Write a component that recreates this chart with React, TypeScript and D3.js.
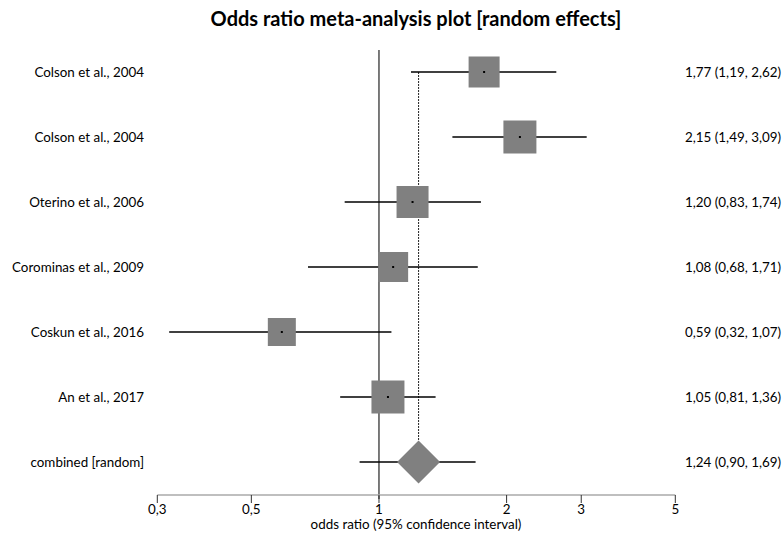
import React from "react";
import * as d3 from "d3";

const studies = [
  "Colson et al., 2004",
  "Colson et al., 2004",
  "Oterino et al., 2006",
  "Corominas et al., 2009",
  "Coskun et al., 2016",
  "An et al., 2017",
];
const oddsRatios = [1.77, 2.15, 1.2, 1.08, 0.59, 1.05];
const lowerCI = [1.19, 1.49, 0.83, 0.68, 0.32, 0.81];
const upperCI = [2.62, 3.09, 1.74, 1.71, 1.07, 1.36];
const weights = [31, 33, 32, 30, 28, 33];
const combinedLabel = "combined [random]";
const combinedOR = 1.24;
const combinedLower = 0.9;
const combinedUpper = 1.69;
const tickValues = [0.3, 0.5, 1, 2, 3, 5];

const fmt = (v: number) => v.toFixed(2).replace(".", ",");
const tickFmt = (v: number) => String(v).replace(".", ",");

export default function App() {
  const W = 784;
  const H = 535;
  const font = "Lato, 'Open Sans', sans-serif";
  const fs = 13.4;
  const x = d3.scaleLog().domain([0.3, 5]).range([157.3, 675.3]);
  const y = d3
    .scalePoint<number>()
    .domain(d3.range(studies.length + 1))
    .range([72, 462]);
  const axisY = 495;
  const cx = x(combinedOR);
  const cy = y(studies.length)!;
  const dh = 21.5;
  const diamond = d3.line()([
    [cx, cy - dh],
    [cx + dh, cy],
    [cx, cy + dh],
    [cx - dh, cy],
  ]) + "Z";

  return (
    <svg
      width={W}
      height={H}
      style={{ position: "absolute", left: 0, top: 0, background: "#fff" }}
      fontFamily={font}
    >
      <text
        x={416}
        y={26}
        textAnchor="middle"
        fontSize={20}
        fontWeight="bold"
        fill="#000"
      >
        Odds ratio meta-analysis plot [random effects]
      </text>

      {/* null line */}
      <line x1={x(1)} x2={x(1)} y1={50} y2={499} stroke="#222" strokeWidth={1.2} />
      {/* combined dashed line */}
      <line
        x1={cx}
        x2={cx}
        y1={y(0)}
        y2={cy - dh}
        stroke="#222"
        strokeWidth={1}
        strokeDasharray="2,1"
      />

      {studies.map((s, i) => {
        const yy = y(i)!;
        const px = x(oddsRatios[i]);
        const sz = weights[i];
        return (
          <g key={i}>
            <line
              x1={x(lowerCI[i])}
              x2={x(upperCI[i])}
              y1={yy}
              y2={yy}
              stroke="#000"
              strokeWidth={1.3}
            />
            <rect x={px - sz / 2} y={yy - sz / 2} width={sz} height={sz} fill="#808080" />
            <rect x={px - 1} y={yy - 1} width={2} height={2} fill="#000" />
            <text x={144} y={yy + 4.5} textAnchor="end" fontSize={fs} fill="#000">
              {s}
            </text>
            <text x={685} y={yy + 4.5} textAnchor="start" fontSize={fs} fill="#000">
              {`${fmt(oddsRatios[i])} (${fmt(lowerCI[i])}, ${fmt(upperCI[i])})`}
            </text>
          </g>
        );
      })}

      {/* combined */}
      <line
        x1={x(combinedLower)}
        x2={x(combinedUpper)}
        y1={cy}
        y2={cy}
        stroke="#000"
        strokeWidth={1.3}
      />
      <path d={diamond} fill="#808080" />
      <text x={144} y={cy + 4.5} textAnchor="end" fontSize={fs} fill="#000">
        {combinedLabel}
      </text>
      <text x={685} y={cy + 4.5} textAnchor="start" fontSize={fs} fill="#000">
        {`${fmt(combinedOR)} (${fmt(combinedLower)}, ${fmt(combinedUpper)})`}
      </text>

      {/* axis */}
      <line x1={x(0.3)} x2={x(5)} y1={axisY} y2={axisY} stroke="#aaa" strokeWidth={1.5} />
      {tickValues.map((t) => (
        <g key={t}>
          <line x1={x(t)} x2={x(t)} y1={axisY} y2={axisY + 8} stroke="#333" strokeWidth={1} />
          <text x={x(t)} y={axisY + 19} textAnchor="middle" fontSize={fs} fill="#000">
            {tickFmt(t)}
          </text>
        </g>
      ))}
      <text x={416} y={529} textAnchor="middle" fontSize={fs} fill="#000">
        odds ratio (95% confidence interval)
      </text>
    </svg>
  );
}
